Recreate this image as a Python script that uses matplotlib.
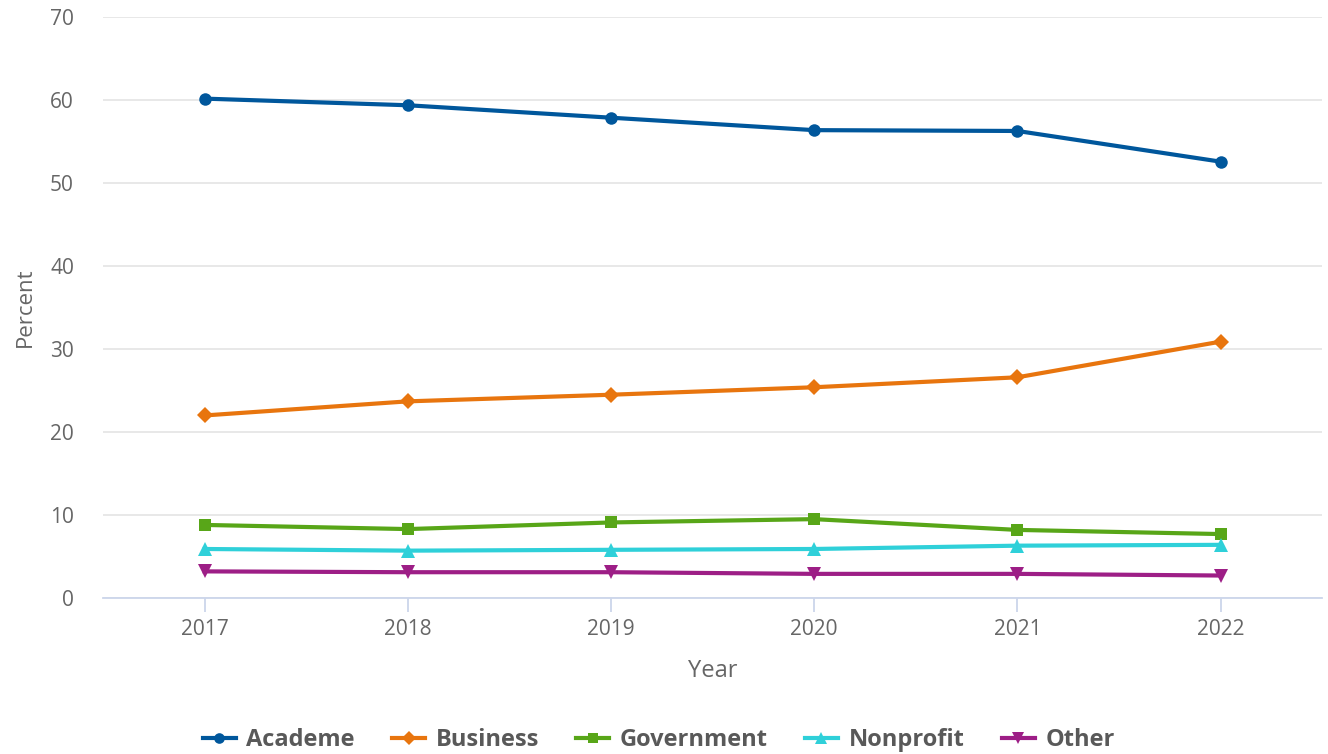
import matplotlib
matplotlib.use("Agg")
import matplotlib.pyplot as plt
from matplotlib.lines import Line2D

plt.rcParams['font.family'] = ['Open Sans', 'DejaVu Sans']

# Datos
years = [2017, 2018, 2019, 2020, 2021, 2022]
academe = [60.2, 59.4, 57.9, 56.4, 56.3, 52.6]
business = [22.0, 23.7, 24.5, 25.4, 26.6, 30.9]
government = [8.8, 8.3, 9.1, 9.5, 8.2, 7.7]
nonprofit = [5.9, 5.7, 5.8, 5.9, 6.3, 6.4]
other = [3.2, 3.1, 3.1, 2.9, 2.9, 2.7]

series = [
    ("Academe", academe, "#00579c", "o", 9),
    ("Business", business, "#e8750e", "D", 8),
    ("Government", government, "#58a618", "s", 9),
    ("Nonprofit", nonprofit, "#2fd0d9", "^", 10),
    ("Other", other, "#9d1e86", "v", 10),
]

fig = plt.figure(figsize=(13.28, 7.54), dpi=100)
ax = fig.add_axes([0.0776, 0.207, 0.918, 0.770])

handles = []
for name, vals, col, mk, ms in series:
    ax.plot(years, vals, color=col, lw=3, marker=mk, markersize=ms,
            markeredgewidth=0, zorder=3)
    handles.append(Line2D([0], [0], color=col, lw=3, marker=mk,
                          markersize=ms * 0.85, markeredgewidth=0, label=name))

ax.set_xlim(2016.5, 2022.5)
ax.set_ylim(0, 70)
ax.set_yticks(range(0, 71, 10))
ax.set_xticks(years)
ax.grid(axis="y", color="#e6e6e6", lw=1.3)
ax.set_axisbelow(True)
for s in ["top", "right", "left"]:
    ax.spines[s].set_visible(False)
ax.spines["bottom"].set_color("#ccd6eb")
ax.spines["bottom"].set_linewidth(1.3)
ax.tick_params(axis="y", length=0, labelsize=15, labelcolor="#666666", pad=21)
ax.tick_params(axis="x", length=10, width=1.3, color="#ccd6eb",
               labelsize=15, labelcolor="#666666", pad=5)

ax.set_xlabel("Year", fontsize=17, color="#666666", labelpad=14)
ax.set_ylabel("Percent", fontsize=16, color="#666666", labelpad=10)

fig.legend(handles=handles, loc="center", bbox_to_anchor=(0.496, 0.018),
           ncol=5, frameon=False, handlelength=1.4, handletextpad=0.45,
           columnspacing=1.57,
           prop={"weight": "bold", "size": 17}, labelcolor="#595959")

fig.savefig("out.png", dpi=100)
